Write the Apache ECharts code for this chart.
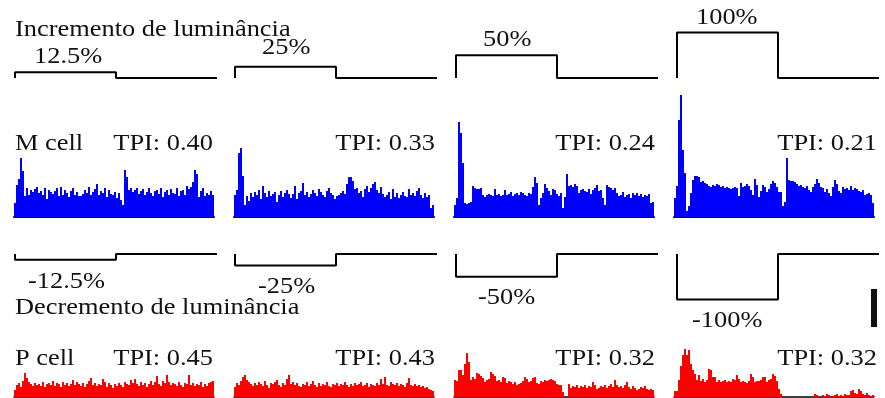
<!DOCTYPE html>
<html>
<head>
<meta charset="utf-8">
<script src="https://cdn.jsdelivr.net/npm/echarts@6/dist/echarts.min.js"></script>
<style>
  html, body { margin: 0; padding: 0; background: #fff; }
  #main { width: 885px; height: 398px; }
</style>
</head>
<body>
<div id="main"></div>
<script>
// stimulus contrasts (%) and labels
var contrasts = [12.5, 25, 50, 100];
var incLabels = ['12.5%', '25%', '50%', '100%'];
var decLabels = ['-12.5%', '-25%', '-50%', '-100%'];
var tpiM = ['0.40', '0.33', '0.24', '0.21'];
var tpiP = ['0.45', '0.43', '0.32', '0.32'];

// PSTH, 100 bins each
var mCell12 = [14,32,38,59,46,21,29,22,27,25, 28,30,24,26,22,29,18,27,25,23, 26,29,21,30,22,27,24,20,26,29,
  22,25,21,21,23,27,24,30,22,25, 28,33,22,26,24,29,20,27,23,22, 25,19,24,17,12,47,40,27,29,25,
  27,29,23,26,28,22,25,29,24,21, 26,27,23,29,20,25,27,22,28,24, 23,29,21,26,27,22,31,28,30,35,
  47,43,20,26,29,21,24,22,26,22];
var mCell25 = [22,27,64,69,41,12,21,16,24,20, 25,22,27,18,31,24,20,26,21,23, 25,15,22,26,20,24,27,23,19,23,
  31,18,24,26,34,22,25,20,23,27, 24,21,28,25,22,20,26,29,24,22, 18,21,22,24,26,23,33,40,40,36,
  28,29,24,26,20,28,31,25,29,33, 35,27,24,30,23,20,22,25,18,28, 20,24,19,22,25,21,20,28,22,24,
  21,26,29,22,19,24,20,22,9,12];
var mCell50 = [12,19,95,84,54,14,13,14,15,31, 29,28,28,29,22,20,22,23,22,21, 28,22,23,21,22,27,22,23,25,21,
  23,24,22,25,24,22,21,24,23,30, 40,34,12,19,24,33,29,26,22,28, 27,23,21,24,9,20,43,31,32,30,
  33,31,24,27,28,26,25,28,23,27, 29,32,26,27,19,12,32,30,29,27, 29,24,21,22,25,20,22,23,19,24,
  22,24,21,23,20,22,21,23,14,15];
var mCell100 = [19,31,97,122,67,44,6,11,24,37, 41,41,40,35,36,34,33,31,30,32, 31,33,32,30,31,29,30,29,28,29,
  30,29,21,34,30,31,33,31,27,22, 38,32,20,26,32,30,25,28,33,36, 34,30,25,25,11,15,59,37,36,36,
  35,33,31,32,30,29,31,27,25,30, 33,38,34,30,29,25,28,24,21,30, 37,33,26,24,30,28,29,27,31,27,
  29,28,26,25,27,22,23,24,22,14];
var pCell12 = [7,12,14,10,16,24,19,15,13,11, 14,12,13,11,15,10,13,14,12,16, 11,14,13,10,15,12,14,11,13,17,
  12,15,13,11,14,10,13,16,19,12, 14,11,13,12,18,15,10,14,12,9, 13,11,14,12,10,15,13,12,17,14,
  18,13,11,15,12,14,10,13,16,12, 15,21,13,11,16,14,22,15,12,14, 13,11,15,12,10,14,13,22,12,14,
  11,13,12,15,10,13,11,14,15,16];
var pCell25 = [10,14,12,16,20,22,17,15,13,11, 14,12,15,13,11,16,12,9,14,13, 15,17,12,10,14,12,18,22,13,15,
  12,14,11,10,13,12,15,11,13,16, 12,10,14,11,13,12,15,11,10,13, 12,14,11,13,12,15,12,10,13,11,
  14,12,13,15,11,12,14,10,13,12, 11,14,12,18,13,20,12,11,15,13, 12,14,11,13,12,10,14,19,12,11,
  13,11,12,10,11,9,10,8,7,6];
var pCell50 = [17,16,27,27,22,33,44,35,17,20, 18,24,23,21,19,15,17,18,25,23, 21,16,17,15,20,19,14,16,15,13,
  15,12,13,14,16,20,18,15,16,19, 20,14,13,16,15,17,16,17,18,17, 16,13,12,12,5,0,0,13,9,11,
  10,12,9,11,10,12,9,11,10,15, 12,8,9,11,10,12,9,11,13,10, 17,12,10,11,9,12,15,10,8,11,
  9,7,8,10,9,11,8,7,8,7];
var pCell100 = [6,6,17,31,42,48,42,47,33,27, 23,17,22,16,18,15,17,28,27,20, 20,15,17,15,16,17,15,16,15,18,
  17,22,18,15,16,15,14,16,23,20, 15,16,16,17,20,20,15,17,18,23, 21,16,8,3,0,0,0,0,0,0,
  0,0,0,0,0,0,0,0,0,0, 3,2,0,0,2,1,3,2,0,1, 2,3,1,2,1,3,2,2,6,7,
  4,3,8,6,3,2,4,2,1,2];

var mCells = [mCell12, mCell25, mCell50, mCell100];
var pCells = [pCell12, pCell25, pCell50, pCell100];
var bins = mCell12.map(function (v, i) { return i; });

// layout
var traceLeft = [15, 235, 456, 677];
var histLeft = [14, 234, 454, 674];
var incBase = 78, decBase = 254, pxPerPct = 0.455;
var font = 'Liberation Serif';
var ink = '#111';

var grids = [], xAxes = [], yAxes = [], series = [], graphics = [];

function addGrid(g, x, y) {
  grids.push(g);
  var idx = grids.length - 1;
  x.gridIndex = idx; y.gridIndex = idx;
  xAxes.push(x); yAxes.push(y);
  return idx;
}

function hiddenValueAxis(min, max) {
  return { type: 'value', min: min, max: max, show: false };
}

function stepTrace(level) {
  return [[0, 0], [0, level], [50, level], [50, 0], [100, 0]];
}

contrasts.forEach(function (c, k) {
  // increment trace
  var gi = addGrid({ left: traceLeft[k], top: incBase - 50, width: 202, height: 50 },
    hiddenValueAxis(0, 100), hiddenValueAxis(0, 50 / pxPerPct));
  series.push({ type: 'line', xAxisIndex: gi, yAxisIndex: gi, data: stepTrace(c), symbol: 'none',
    clip: false, lineStyle: { color: '#000', width: 2 } });

  // decrement trace
  gi = addGrid({ left: traceLeft[k], top: decBase, width: 202, height: 50 },
    hiddenValueAxis(0, 100), hiddenValueAxis(-50 / pxPerPct, 0));
  series.push({ type: 'line', xAxisIndex: gi, yAxisIndex: gi, data: stepTrace(-c), symbol: 'none',
    clip: false, lineStyle: { color: '#000', width: 2 } });

  // M cell histogram
  gi = addGrid({ left: histLeft[k], top: 87, width: 200, height: 130 },
    { type: 'category', data: bins, axisLine: { show: true, lineStyle: { color: '#000', width: 2 } },
      axisTick: { show: false }, axisLabel: { show: false } },
    { type: 'value', min: 0, max: 130, show: false });
  series.push({ type: 'bar', xAxisIndex: gi, yAxisIndex: gi, data: mCells[k], barCategoryGap: '0%',
    itemStyle: { color: '#0000ff' } });

  // P cell histogram
  gi = addGrid({ left: histLeft[k], top: 337, width: 200, height: 60 },
    { type: 'category', data: bins, axisLine: { show: true, lineStyle: { color: '#000', width: 1.5 } },
      axisTick: { show: false }, axisLabel: { show: false } },
    { type: 'value', min: 0, max: 60, show: false });
  series.push({ type: 'bar', xAxisIndex: gi, yAxisIndex: gi, data: pCells[k], barCategoryGap: '0%',
    itemStyle: { color: '#ff0000' } });
});

function label(text, x, y, align) {
  graphics.push({
    type: 'text', x: x, y: y, scaleX: 1.1,
    style: { text: text, fontSize: 24, fontFamily: font, fill: ink,
      align: align || 'left', verticalAlign: 'middle' }
  });
}

label('Incremento de luminância', 15, 29.5);
label('Decremento de luminância', 15, 308);
label('M cell', 15, 144);
label('P cell', 15, 358.5);

var incPos = [[34, 56.5], [262, 48], [483, 39.5], [696, 17.5]];
var decPos = [[28, 282], [258, 287], [478, 297.5], [692, 320.5]];
var tpiRight = [213, 435, 655, 877];
contrasts.forEach(function (c, k) {
  label(incLabels[k], incPos[k][0], incPos[k][1]);
  label(decLabels[k], decPos[k][0], decPos[k][1]);
  label('TPI: ' + tpiM[k], tpiRight[k], 144, 'right');
  label('TPI: ' + tpiP[k], tpiRight[k], 358.5, 'right');
});

// scale bar
graphics.push({ type: 'rect', shape: { x: 871, y: 289, width: 6, height: 38 }, style: { fill: '#111' } });

var chart = echarts.init(document.getElementById('main'));
chart.setOption({
  animation: false,
  backgroundColor: '#fff',
  grid: grids,
  xAxis: xAxes,
  yAxis: yAxes,
  series: series,
  graphic: graphics
});
</script>
</body>
</html>
